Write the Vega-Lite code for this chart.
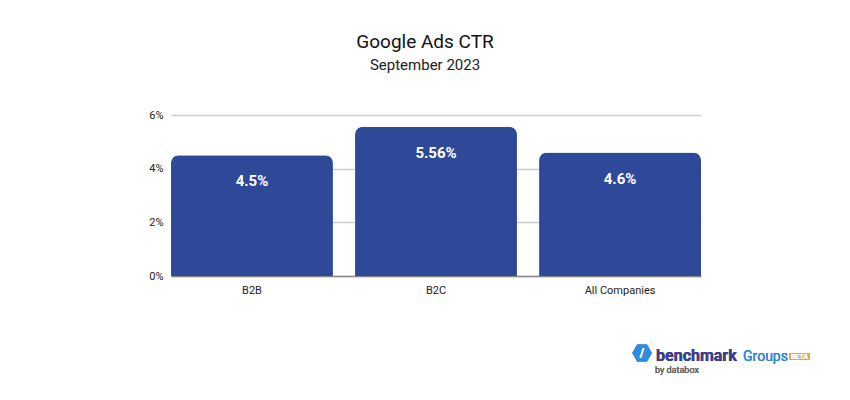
{
  "$schema": "https://vega.github.io/schema/vega-lite/v6.json",
  "width": 530,
  "height": 161,
  "autosize": {"type": "none"},
  "padding": {"left": 171, "top": 115, "right": 149, "bottom": 124},
  "background": "white",
  "config": {"view": {"stroke": null}, "font": "Roboto"},
  "title": {
    "text": "Google Ads CTR",
    "subtitle": "September 2023",
    "anchor": "middle",
    "dx": -11,
    "offset": 36,
    "font": "Roboto",
    "fontSize": 19,
    "fontWeight": "normal",
    "color": "#111111",
    "subtitleFont": "Roboto",
    "subtitleFontSize": 15,
    "subtitleColor": "#222222",
    "subtitlePadding": 6
  },
  "data": {
    "values": [
      {"segment": "B2B", "ctr": 4.5, "label": "4.5%"},
      {"segment": "B2C", "ctr": 5.56, "label": "5.56%"},
      {"segment": "All Companies", "ctr": 4.6, "label": "4.6%"}
    ]
  },
  "encoding": {
    "x": {
      "field": "segment",
      "type": "nominal",
      "sort": null,
      "scale": {"paddingInner": 0.12, "paddingOuter": 0},
      "axis": {
        "title": null,
        "labelAngle": 0,
        "ticks": false,
        "labelPadding": 8,
        "labelFont": "Roboto",
        "labelFontSize": 11,
        "labelColor": "#222222",
        "domainColor": "#888888",
        "domainWidth": 1.5
      }
    },
    "y": {
      "field": "ctr",
      "type": "quantitative",
      "scale": {"domain": [0, 6]},
      "axis": {
        "title": null,
        "values": [0, 2, 4, 6],
        "labelExpr": "datum.value + '%'",
        "ticks": false,
        "domain": false,
        "labelPadding": 8,
        "labelFont": "Roboto",
        "labelFontSize": 11,
        "labelColor": "#222222",
        "gridColor": "#cccccc",
        "gridWidth": 1.5
      }
    }
  },
  "layer": [
    {
      "mark": {"type": "bar", "color": "#2f4999", "cornerRadiusTopLeft": 8, "cornerRadiusTopRight": 8}
    },
    {
      "mark": {"type": "text", "color": "white", "font": "Roboto", "fontSize": 15, "fontWeight": "bold", "baseline": "middle", "dy": 26},
      "encoding": {"text": {"field": "label"}}
    },
    {
      "mark": {"type": "point", "shape": "M-1,0L-0.5,-0.87L0.5,-0.87L1,0L0.5,0.87L-0.5,0.87Z", "filled": true, "color": "#2f8ae0", "size": 380, "opacity": 1},
      "encoding": {"x": {"datum": "All Companies", "bandPosition": 0.636}, "y": {"datum": -2.87}}
    },
    {
      "mark": {"type": "text", "text": "/", "align": "center", "baseline": "middle", "font": "Roboto", "fontSize": 12, "fontWeight": "bold", "color": "white", "dx": 22},
      "encoding": {"x": {"datum": "All Companies"}, "y": {"datum": -2.87}}
    },
    {
      "mark": {"type": "point", "shape": "M-1.5,-0.5L1.5,-0.5L1.5,0.5L-1.5,0.5Z", "filled": true, "color": "#f5a623", "size": 196, "opacity": 1},
      "encoding": {"x": {"datum": "All Companies", "bandPosition": 1.608}, "y": {"datum": -3.0}}
    },
    {
      "mark": {"type": "text", "text": "benchmark", "align": "left", "baseline": "alphabetic", "font": "Roboto", "fontSize": 16, "fontWeight": "bold", "color": "#3d3f8c", "dx": 36},
      "encoding": {"x": {"datum": "All Companies"}, "y": {"datum": -3.17}}
    },
    {
      "mark": {"type": "text", "text": "Groups", "align": "left", "baseline": "alphabetic", "font": "Roboto", "fontSize": 14, "fontWeight": "normal", "color": "#3b86d6", "dx": 123},
      "encoding": {"x": {"datum": "All Companies"}, "y": {"datum": -3.17}}
    },
    {
      "mark": {"type": "text", "text": "BETA", "align": "center", "baseline": "middle", "font": "Roboto", "fontSize": 7, "fontWeight": "bold", "color": "white", "dx": 179.5},
      "encoding": {"x": {"datum": "All Companies"}, "y": {"datum": -3.0}}
    },
    {
      "mark": {"type": "text", "text": "by databox", "align": "left", "baseline": "alphabetic", "font": "Roboto", "fontSize": 9, "color": "#666666", "dx": 35},
      "encoding": {"x": {"datum": "All Companies"}, "y": {"datum": -3.6}}
    }
  ]
}
